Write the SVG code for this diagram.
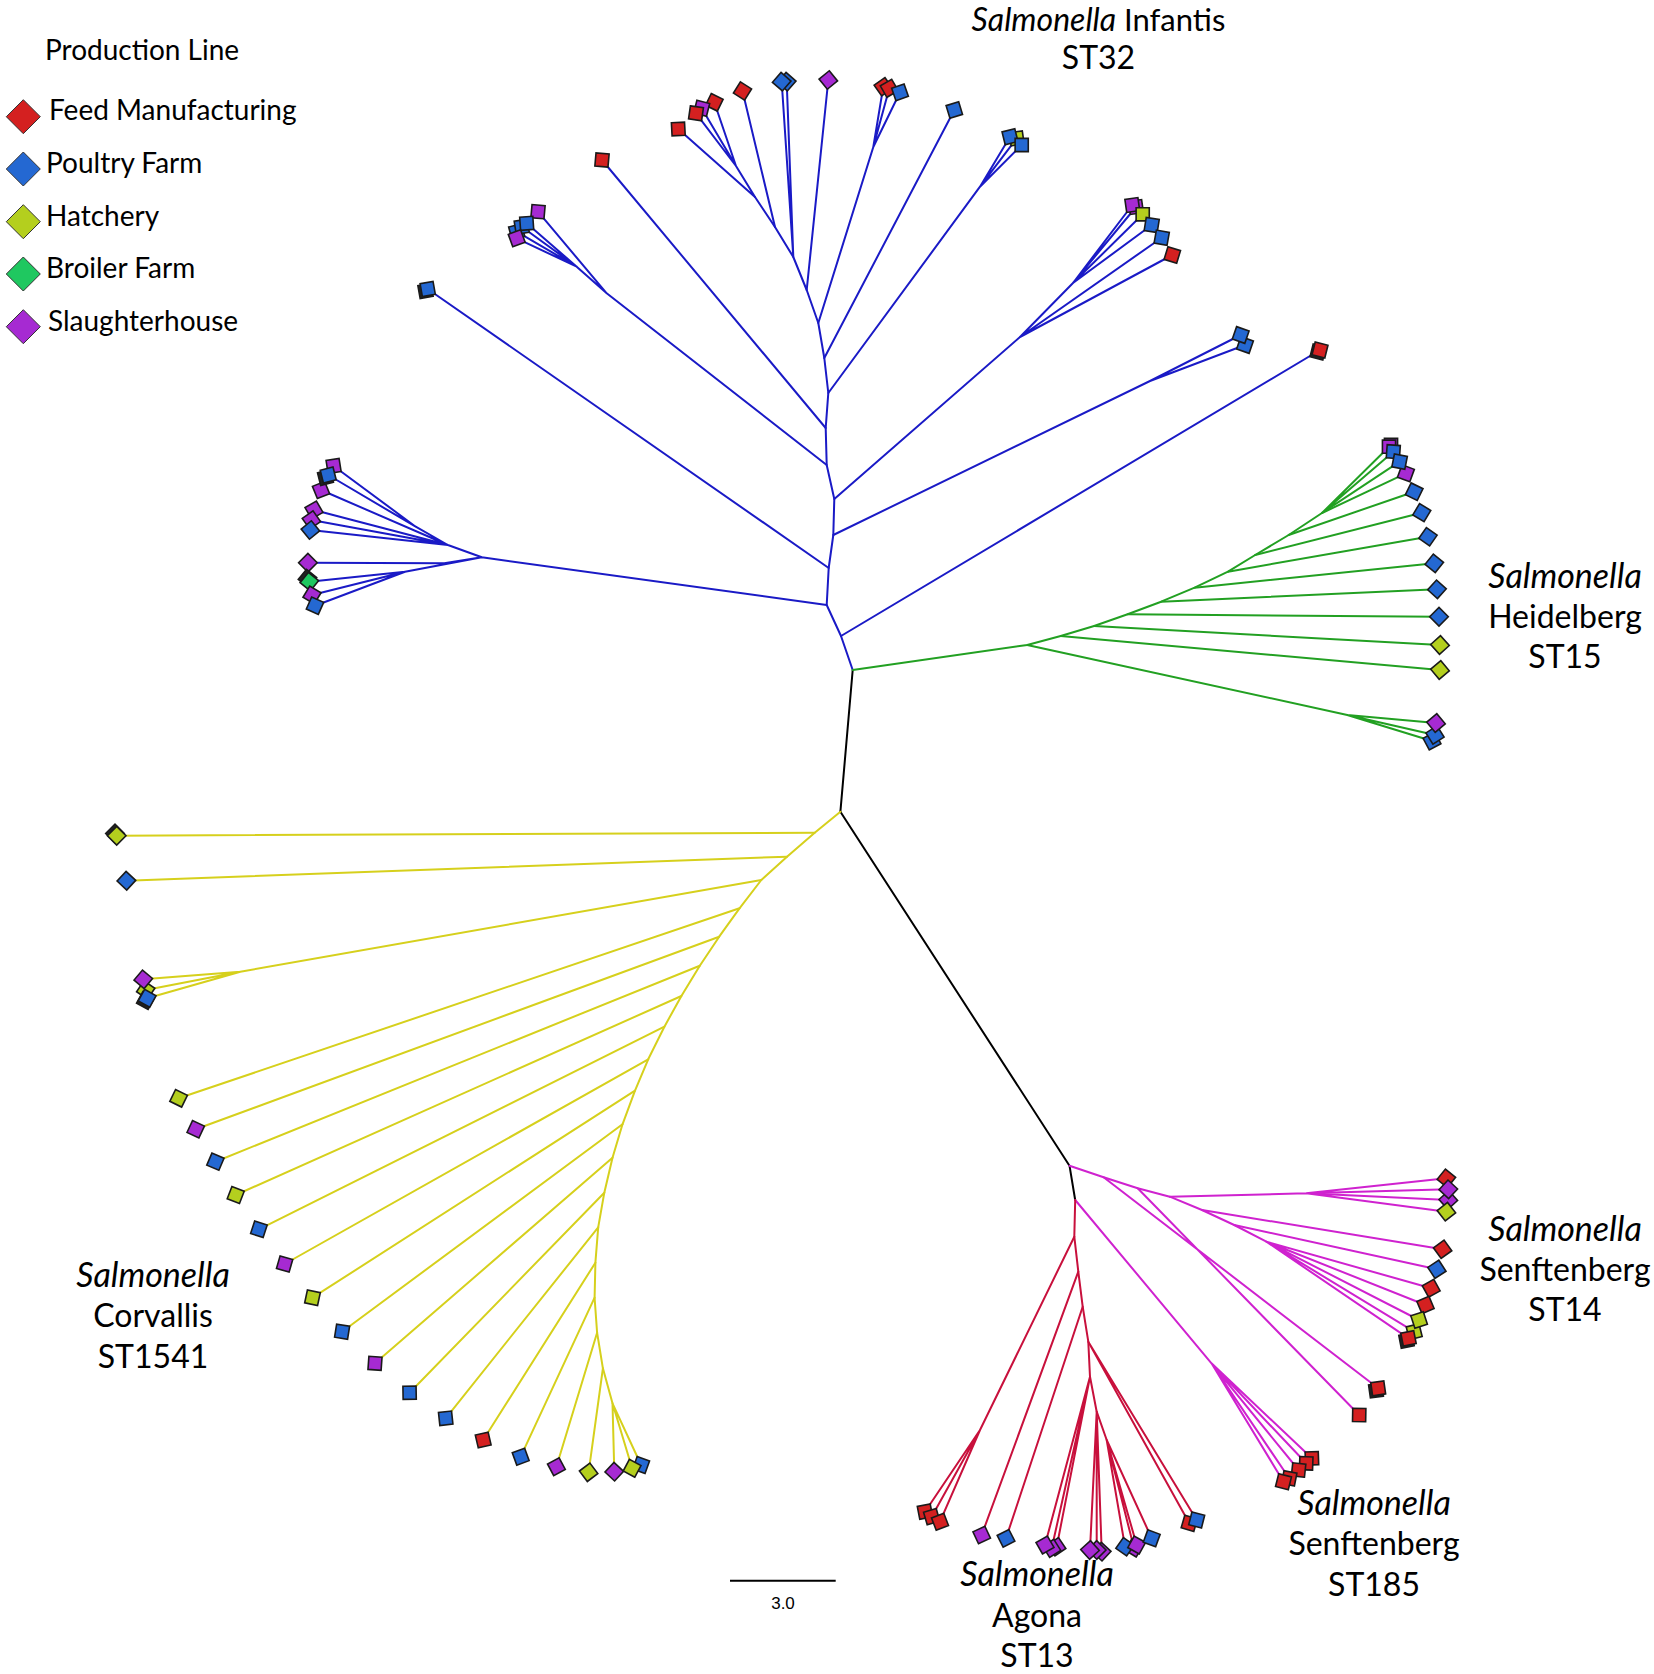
<svg xmlns="http://www.w3.org/2000/svg" xmlns:xlink="http://www.w3.org/1999/xlink" width="1654" height="1674" viewBox="0 0 1654 1674">
<style>
.lab{font-family:Lato,"Liberation Sans",sans-serif;font-size:32px;text-anchor:middle;fill:#000}
.it{font-style:italic;font-size:34px}
.leg{font-family:Lato,"Liberation Sans",sans-serif;font-size:28px;fill:#000}
.e{fill:none;stroke-width:2;stroke-linejoin:round;stroke-linecap:round}
.blue{stroke:#1a1ac6}.green{stroke:#22a022}.yel{stroke:#d6d01c}.mag{stroke:#cf22cf}.red{stroke:#c8103c}.blk{stroke:#000}
use{stroke:#1a1a1a;stroke-width:1.6}
.fm{fill:#d42020}.pf{fill:#2468d2}.ha{fill:#b4cf1e}.br{fill:#1fc860}.sh{fill:#a62ad2}.dk{fill:#222}
.ld{stroke:#333;stroke-width:1}
</style>
<defs><polygon id="d" points="9.3,0 0,9.3 -9.3,0 0,-9.3"/></defs>
<rect width="1654" height="1674" fill="#fff"/>

<g id="connectors">
<g class="e blk">
<path d="M852.7,670 L840.4,811.7"/>
<path d="M840.4,811.7 L1069.5,1165.7 L1075.2,1200"/>
</g>
<g class="e blue">
<path d="M852.7,670 L841,636 L826.7,605 L828.7,568 L833.3,535 L834.3,499 L826.7,465 L825.7,428 L828.3,393 L824.3,358 L818.3,323 L806.7,290 L793.3,257 L775,227 L755,197"/>
<path d="M841,636 L1320,350"/>
<path d="M826.7,605 L481.8,557.3 M481.8,557.3 L447.9,545 L321,490 M447.9,545 L314,510 M447.9,545 L311.4,520 M447.9,545 L310.4,530 M447.9,545 L415.7,526.7 L333.6,466 M415.7,526.7 L328.2,475 M481.8,557.3 L444.3,563.3 L307.9,562.7 M481.8,557.3 L405,571.7 L309.3,581.7 M405,571.7 L312,595 M405,571.7 L315,605.7"/>
<path d="M828.7,568 L427.7,289"/>
<path d="M833.3,535 L1150,381 L1240.7,335 M1150,381 L1245,345"/>
<path d="M834.3,499 L1020,337 L1073,283 L1132.3,205 M1073,283 L1136,207 M1073,283 L1142.7,214.3 M1073,283 L1151.7,225 M1020,337 L1161.7,237.7 M1020,337 L1172.3,255"/>
<path d="M826.7,465 L606.7,293.3 L538,211.7 M606.7,293.3 L576.7,266.7 L526.7,223.3 M576.7,266.7 L521.7,226.7 M576.7,266.7 L516.7,231.7 M576.7,266.7 L516.7,238.3"/>
<path d="M825.7,428 L602,160"/>
<path d="M828.3,393 L980,186.7 L1010,136.7 M980,186.7 L1016.7,138.3 M980,186.7 L1021.7,145"/>
<path d="M824.3,358 L954.3,110"/>
<path d="M818.3,323 L873.3,147 L883.3,86.7 M873.3,147 L889.3,88.3 M873.3,147 L900,92.3"/>
<path d="M806.7,290 L828.3,80"/>
<path d="M793.3,257 L781.7,81.7 M793.3,257 L786.7,81.7"/>
<path d="M775,227 L742.5,91"/>
<path d="M755,197 L678.3,129 M755,197 L736,166 L714.3,102.3 M736,166 L701.7,108.3 M736,166 L696,113.3"/>
</g>
<g class="e green">
<path d="M852.7,670 L1027.2,645 L1060.7,636 L1094.1,626 L1127.6,614.3 L1161.1,601.7 L1194.6,587.7 L1228,571.7 L1255.2,555 L1288.7,535 L1322,513"/>
<path d="M1027.2,645 L1347.3,715 L1432,741 M1347.3,715 L1435,735 M1347.3,715 L1436,723"/>
<path d="M1060.7,636 L1440,670 M1094.1,626 L1440,645 M1127.6,614.3 L1439,616.7 M1161.1,601.7 L1437,589.3 M1194.6,587.7 L1434.3,563.3 M1228,571.7 L1428,536.7 M1255.2,555 L1421.8,512.7 M1288.7,535 L1414.2,491.7 M1322,513 L1405.9,473.3"/>
<path d="M1322,513 L1389,446.7 M1322,513 L1393.3,451.7 M1322,513 L1399.6,461.7"/>
</g>
<g class="e yel">
<path d="M840.4,811.7 L814.7,832.7 L787,856.7 L761.3,880 L739.5,908.3 L719.2,936.7 L699.8,965.7 L681.4,996 L664.4,1026.7 L648.2,1059.3 L635,1090.7 L622.5,1124.3 L612.5,1157.7 L604.3,1192.7 L598.2,1227.3 L595.4,1262.7 L594.6,1297.7 L597.1,1332.7 L602.9,1368.3 L612.5,1403.3"/>
<path d="M814.7,832.7 L116.7,835.7 M787,856.7 L126.4,880.7 M761.3,880 L240.3,971.7 L143.3,979.3 M240.3,971.7 L145.7,990 M240.3,971.7 L147.2,998.3"/>
<path d="M739.5,908.3 L178.6,1098.3 M719.2,936.7 L195.7,1129.3 M699.8,965.7 L215.4,1161.7 M681.4,996 L235.7,1195 M664.4,1026.7 L258.9,1229.3 M648.2,1059.3 L284.6,1264 M635,1090.7 L312.5,1297.7 M622.5,1124.3 L342.1,1331.7 M612.5,1157.7 L375,1363.3 M604.3,1192.7 L409.6,1392.7 M598.2,1227.3 L445.7,1418.3 M595.4,1262.7 L483.2,1440 M594.6,1297.7 L520.7,1456.7 M597.1,1332.7 L556.4,1466.7 M602.9,1368.3 L588.6,1472.3 M612.5,1403.3 L614.3,1471.7 M612.5,1403.3 L632.1,1468.3 M612.5,1403.3 L641.1,1465"/>
</g>
<g class="e mag">
<path d="M1069.5,1165.7 L1103.6,1177.3 L1137.7,1188.3 L1169.8,1196.7 L1202,1210 L1234.2,1225 L1266.4,1241.7"/>
<path d="M1103.6,1177.3 L1378.2,1388.3 M1137.7,1188.3 L1359.2,1415"/>
<path d="M1169.8,1196.7 L1306.2,1193.3 L1446.4,1178.3 M1306.2,1193.3 L1448.3,1189.3 M1306.2,1193.3 L1448.3,1200 M1306.2,1193.3 L1446.4,1211.7"/>
<path d="M1202,1210 L1442.6,1249.3 M1234.2,1225 L1436.9,1269.3"/>
<path d="M1266.4,1241.7 L1431.2,1288.3 M1266.4,1241.7 L1425.5,1305 M1266.4,1241.7 L1419.1,1320 M1266.4,1241.7 L1414.2,1331.7 M1266.4,1241.7 L1408.5,1338.3"/>
<path d="M1075.2,1200 L1211.5,1363.3 L1283.5,1481.7 M1211.5,1363.3 L1289.2,1478.3 M1211.5,1363.3 L1298.6,1470 M1211.5,1363.3 L1306.2,1463.3 M1211.5,1363.3 L1311.9,1458.3"/>
</g>
<g class="e red">
<path d="M1075.2,1200 L1074.3,1236.7 L1078.3,1271.7 L1082.7,1306.7 L1088.3,1341.7 L1090,1376.7 L1096.7,1411.7 L1106.7,1440"/>
<path d="M1074.3,1236.7 L980,1430 L925,1511.7 M980,1430 L931.7,1516.7 M980,1430 L940,1521.7"/>
<path d="M1078.3,1271.7 L981.7,1535 M1082.7,1306.7 L1006,1538.3"/>
<path d="M1088.3,1341.7 L1189.3,1523.3 M1088.3,1341.7 L1196.7,1520"/>
<path d="M1090,1376.7 L1045,1545 M1090,1376.7 L1051.7,1548.3 M1090,1376.7 L1056.7,1546.7"/>
<path d="M1096.7,1411.7 L1090,1550 M1096.7,1411.7 L1096.7,1550 M1096.7,1411.7 L1101.7,1551.7"/>
<path d="M1106.7,1440 L1125,1546.7 M1106.7,1440 L1134,1548 M1106.7,1440 L1136.7,1545 M1106.7,1440 L1151.7,1538.3"/>
</g>
</g>

<g id="infantis-leaves">
<use href="#d" class="dk" transform="translate(1318,352) rotate(-31)"/>
<use id="i1" href="#d" class="fm" transform="translate(1320,350) rotate(-31)"/>
<use id="i2" href="#d" class="sh" transform="translate(321,490) rotate(23)"/>
<use id="i3" href="#d" class="sh" transform="translate(314,510) rotate(15)"/>
<use id="i4" href="#d" class="sh" transform="translate(311.4,520) rotate(10)"/>
<use id="i5" href="#d" class="pf" transform="translate(310.4,530) rotate(6)"/>
<use id="i6" href="#d" class="sh" transform="translate(333.6,466) rotate(36)"/>
<use href="#d" class="dk" transform="translate(325.5,477.5) rotate(31)"/>
<use id="i7" href="#d" class="pf" transform="translate(328.2,475) rotate(31)"/>
<use id="i8" href="#d" class="sh" transform="translate(307.9,562.7) rotate(0)"/>
<use href="#d" class="dk" transform="translate(307.5,578.5) rotate(-6)"/>
<use id="i9" href="#d" class="br" transform="translate(309.3,581.7) rotate(-6)"/>
<use id="i10" href="#d" class="sh" transform="translate(312,595) rotate(-14)"/>
<use id="i11" href="#d" class="pf" transform="translate(315,605.7) rotate(-21)"/>
<use href="#d" class="dk" transform="translate(425.5,291) rotate(35)"/>
<use id="i12" href="#d" class="pf" transform="translate(427.7,289) rotate(35)"/>
<use id="i13" href="#d" class="pf" transform="translate(1245,345) rotate(-26)"/>
<use id="i14" href="#d" class="pf" transform="translate(1240.7,335) rotate(-26)"/>
<use id="i15" href="#d" class="sh" transform="translate(1136,207) rotate(-53)"/>
<use id="i16" href="#d" class="sh" transform="translate(1132.3,205) rotate(-53)"/>
<use id="i17" href="#d" class="ha" transform="translate(1142.7,214.3) rotate(-45)"/>
<use id="i18" href="#d" class="pf" transform="translate(1151.7,225) rotate(-36)"/>
<use id="i19" href="#d" class="pf" transform="translate(1161.7,237.7) rotate(-35)"/>
<use id="i20" href="#d" class="fm" transform="translate(1172.3,255) rotate(-28)"/>
<use id="i21" href="#d" class="sh" transform="translate(538,211.7) rotate(50)"/>
<use id="i22" href="#d" class="pf" transform="translate(516.7,231.7) rotate(30)"/>
<use id="i23" href="#d" class="pf" transform="translate(521.7,226.7) rotate(36)"/>
<use id="i24" href="#d" class="pf" transform="translate(526.7,223.3) rotate(41)"/>
<use id="i25" href="#d" class="sh" transform="translate(516.7,238.3) rotate(25)"/>
<use id="i26" href="#d" class="fm" transform="translate(602,160) rotate(50)"/>
<use id="i27" href="#d" class="ha" transform="translate(1016.7,138.3) rotate(-53)"/>
<use id="i28" href="#d" class="pf" transform="translate(1010,136.7) rotate(-59)"/>
<use id="i29" href="#d" class="pf" transform="translate(1021.7,145) rotate(-45)"/>
<use id="i30" href="#d" class="pf" transform="translate(954.3,110) rotate(-62)"/>
<use id="i31" href="#d" class="fm" transform="translate(883.3,86.7) rotate(-80)"/>
<use id="i32" href="#d" class="fm" transform="translate(889.3,88.3) rotate(-75)"/>
<use id="i33" href="#d" class="pf" transform="translate(900,92.3) rotate(-64)"/>
<use id="i34" href="#d" class="sh" transform="translate(828.3,80) rotate(-84)"/>
<use id="i35" href="#d" class="pf" transform="translate(786.7,81.7) rotate(-94)"/>
<use id="i36" href="#d" class="pf" transform="translate(781.7,81.7) rotate(-94)"/>
<use id="i37" href="#d" class="fm" transform="translate(742.5,91) rotate(-103)"/>
<use id="i38" href="#d" class="fm" transform="translate(678.3,129) rotate(-138)"/>
<use id="i39" href="#d" class="fm" transform="translate(714.3,102.3) rotate(-109)"/>
<use id="i40" href="#d" class="sh" transform="translate(701.7,108.3) rotate(-121)"/>
<use id="i41" href="#d" class="fm" transform="translate(696,113.3) rotate(-127)"/>
</g>

<g id="heidelberg-leaves">
<use id="h1" href="#d" class="pf" transform="translate(1432,741) rotate(17)"/>
<use id="h2" href="#d" class="pf" transform="translate(1435,735) rotate(13)"/>
<use id="h3" href="#d" class="sh" transform="translate(1436,723) rotate(5)"/>
<use id="h4" href="#d" class="ha" transform="translate(1440,670) rotate(5)"/>
<use id="h5" href="#d" class="ha" transform="translate(1440,645) rotate(3)"/>
<use id="h6" href="#d" class="pf" transform="translate(1439,616.7) rotate(0)"/>
<use id="h7" href="#d" class="pf" transform="translate(1437,589.3) rotate(-3)"/>
<use id="h8" href="#d" class="pf" transform="translate(1434.3,563.3) rotate(-6)"/>
<use id="h9" href="#d" class="pf" transform="translate(1428,536.7) rotate(-10)"/>
<use id="h10" href="#d" class="pf" transform="translate(1421.8,512.7) rotate(-14)"/>
<use id="h11" href="#d" class="pf" transform="translate(1414.2,491.7) rotate(-19)"/>
<use id="h12" href="#d" class="sh" transform="translate(1405.9,473.3) rotate(-25)"/>
<use id="h13" href="#d" class="sh" transform="translate(1391,445) rotate(-45)"/>
<use id="h14" href="#d" class="sh" transform="translate(1389,446.7) rotate(-45)"/>
<use id="h15" href="#d" class="pf" transform="translate(1393.3,451.7) rotate(-41)"/>
<use id="h16" href="#d" class="pf" transform="translate(1399.6,461.7) rotate(-34)"/>
</g>

<g id="corvallis-leaves">
<use href="#d" class="dk" transform="translate(115,833.5) rotate(0)"/>
<use id="c1" href="#d" class="ha" transform="translate(116.7,835.7) rotate(0)"/>
<use id="c2" href="#d" class="pf" transform="translate(126.4,880.7) rotate(-2)"/>
<use id="c3" href="#d" class="ha" transform="translate(145.7,990) rotate(-11)"/>
<use id="c4" href="#d" class="sh" transform="translate(143.3,979.3) rotate(-5)"/>
<use href="#d" class="dk" transform="translate(145.5,1000.5) rotate(-16)"/>
<use id="c5" href="#d" class="pf" transform="translate(147.2,998.3) rotate(-16)"/>
<use id="c6" href="#d" class="ha" transform="translate(178.6,1098.3) rotate(161)"/>
<use id="c7" href="#d" class="sh" transform="translate(195.7,1129.3) rotate(160)"/>
<use id="c8" href="#d" class="pf" transform="translate(215.4,1161.7) rotate(158)"/>
<use id="c9" href="#d" class="ha" transform="translate(235.7,1195) rotate(156)"/>
<use id="c10" href="#d" class="pf" transform="translate(258.9,1229.3) rotate(153)"/>
<use id="c11" href="#d" class="sh" transform="translate(284.6,1264) rotate(151)"/>
<use id="c12" href="#d" class="ha" transform="translate(312.5,1297.7) rotate(147)"/>
<use id="c13" href="#d" class="pf" transform="translate(342.1,1331.7) rotate(144)"/>
<use id="c14" href="#d" class="sh" transform="translate(375,1363.3) rotate(139)"/>
<use id="c15" href="#d" class="pf" transform="translate(409.6,1392.7) rotate(134)"/>
<use id="c16" href="#d" class="pf" transform="translate(445.7,1418.3) rotate(129)"/>
<use id="c17" href="#d" class="fm" transform="translate(483.2,1440) rotate(122)"/>
<use id="c18" href="#d" class="pf" transform="translate(520.7,1456.7) rotate(115)"/>
<use id="c19" href="#d" class="sh" transform="translate(556.4,1466.7) rotate(107)"/>
<use id="c20" href="#d" class="ha" transform="translate(588.6,1472.3) rotate(98)"/>
<use id="c21" href="#d" class="sh" transform="translate(614.3,1471.7) rotate(88)"/>
<use id="c22" href="#d" class="pf" transform="translate(641.1,1465) rotate(65)"/>
<use id="c23" href="#d" class="ha" transform="translate(632.1,1468.3) rotate(73)"/>
</g>

<g id="senftenberg14-leaves">
<use href="#d" class="dk" transform="translate(1376,1390.5) rotate(37)"/>
<use id="s1" href="#d" class="fm" transform="translate(1378.2,1388.3) rotate(37)"/>
<use id="s2" href="#d" class="fm" transform="translate(1359.2,1415) rotate(46)"/>
<use id="s3" href="#d" class="fm" transform="translate(1446.4,1178.3) rotate(-6)"/>
<use id="s4" href="#d" class="sh" transform="translate(1448.3,1200) rotate(3)"/>
<use id="s5" href="#d" class="sh" transform="translate(1448.3,1189.3) rotate(-2)"/>
<use id="s6" href="#d" class="ha" transform="translate(1446.4,1211.7) rotate(7)"/>
<use id="s7" href="#d" class="fm" transform="translate(1442.6,1249.3) rotate(9)"/>
<use id="s8" href="#d" class="pf" transform="translate(1436.9,1269.3) rotate(12)"/>
<use id="s9" href="#d" class="fm" transform="translate(1431.2,1288.3) rotate(16)"/>
<use id="s10" href="#d" class="fm" transform="translate(1425.5,1305) rotate(22)"/>
<use id="s11" href="#d" class="ha" transform="translate(1414.2,1331.7) rotate(31)"/>
<use id="s12" href="#d" class="ha" transform="translate(1419.1,1320) rotate(27)"/>
<use href="#d" class="dk" transform="translate(1406.5,1340.5) rotate(34)"/>
<use id="s13" href="#d" class="fm" transform="translate(1408.5,1338.3) rotate(34)"/>
</g>

<g id="senftenberg185-leaves">
<use id="t5" href="#d" class="fm" transform="translate(1311.9,1458.3) rotate(43)"/>
<use id="t4" href="#d" class="fm" transform="translate(1306.2,1463.3) rotate(47)"/>
<use id="t3" href="#d" class="fm" transform="translate(1298.6,1470) rotate(51)"/>
<use id="t2" href="#d" class="fm" transform="translate(1289.2,1478.3) rotate(56)"/>
<use id="t1" href="#d" class="fm" transform="translate(1283.5,1481.7) rotate(59)"/>
</g>

<g id="agona-leaves">
<use id="a1" href="#d" class="fm" transform="translate(925,1511.7) rotate(124)"/>
<use id="a2" href="#d" class="fm" transform="translate(931.7,1516.7) rotate(119)"/>
<use id="a3" href="#d" class="fm" transform="translate(940,1521.7) rotate(114)"/>
<use id="a4" href="#d" class="sh" transform="translate(981.7,1535) rotate(110)"/>
<use id="a5" href="#d" class="pf" transform="translate(1006,1538.3) rotate(108)"/>
<use id="a6" href="#d" class="fm" transform="translate(1189.3,1523.3) rotate(61)"/>
<use id="a7" href="#d" class="pf" transform="translate(1196.7,1520) rotate(59)"/>
<use id="a8" href="#d" class="sh" transform="translate(1056.7,1546.7) rotate(101)"/>
<use id="a9" href="#d" class="sh" transform="translate(1051.7,1548.3) rotate(103)"/>
<use id="a10" href="#d" class="sh" transform="translate(1045,1545) rotate(105)"/>
<use id="a11" href="#d" class="sh" transform="translate(1101.7,1551.7) rotate(88)"/>
<use id="a12" href="#d" class="sh" transform="translate(1096.7,1550) rotate(90)"/>
<use id="a13" href="#d" class="sh" transform="translate(1090,1550) rotate(93)"/>
<use id="a14" href="#d" class="sh" transform="translate(1134,1548) rotate(76)"/>
<use id="a15" href="#d" class="pf" transform="translate(1125,1546.7) rotate(80)"/>
<use id="a16" href="#d" class="sh" transform="translate(1136.7,1545) rotate(74)"/>
<use id="a17" href="#d" class="pf" transform="translate(1151.7,1538.3) rotate(65)"/>
</g>

<g id="labels">
<text class="lab" x="1098.5" y="31" style="font-size:31px"><tspan style="font-style:italic;font-size:32px">Salmonella</tspan> Infantis</text>
<text class="lab" x="1098.5" y="69">ST32</text>
<text class="lab it" x="1565" y="588">Salmonella</text>
<text class="lab" x="1565" y="628">Heidelberg</text>
<text class="lab" x="1565" y="668">ST15</text>
<text class="lab it" x="153" y="1287">Salmonella</text>
<text class="lab" x="153" y="1327">Corvallis</text>
<text class="lab" x="153" y="1368">ST1541</text>
<text class="lab it" x="1565" y="1241">Salmonella</text>
<text class="lab" x="1565" y="1281">Senftenberg</text>
<text class="lab" x="1565" y="1321">ST14</text>
<text class="lab it" x="1374" y="1515">Salmonella</text>
<text class="lab" x="1374" y="1555">Senftenberg</text>
<text class="lab" x="1374" y="1596">ST185</text>
<text class="lab it" x="1037" y="1586">Salmonella</text>
<text class="lab" x="1037" y="1627">Agona</text>
<text class="lab" x="1037" y="1667">ST13</text>
</g>

<g id="scale-bar">
<line x1="730" y1="1580.7" x2="835.7" y2="1580.7" stroke="#000" stroke-width="2"/>
<text x="783" y="1609" font-family="Liberation Sans, Arial, sans-serif" font-size="17" text-anchor="middle">3.0</text>
</g>

<g id="legend">
<text class="leg" x="45" y="60">Production Line</text>
<g id="leg-fm"><polygon class="ld fm" points="6.3,116.7 23.3,99.7 40.3,116.7 23.3,133.7"/><text class="leg" x="49" y="120">Feed Manufacturing</text></g>
<g id="leg-pf"><polygon class="ld pf" points="6.3,169 23.3,152 40.3,169 23.3,186"/><text class="leg" x="46" y="173">Poultry Farm</text></g>
<g id="leg-ha"><polygon class="ld ha" points="6.3,221.7 23.3,204.7 40.3,221.7 23.3,238.7"/><text class="leg" x="46" y="226">Hatchery</text></g>
<g id="leg-br"><polygon class="ld br" points="6.3,274 23.3,257 40.3,274 23.3,291"/><text class="leg" x="46" y="278">Broiler Farm</text></g>
<g id="leg-sh"><polygon class="ld sh" points="6.3,326.7 23.3,309.7 40.3,326.7 23.3,343.7"/><text class="leg" x="48" y="331">Slaughterhouse</text></g>
</g>
</svg>
